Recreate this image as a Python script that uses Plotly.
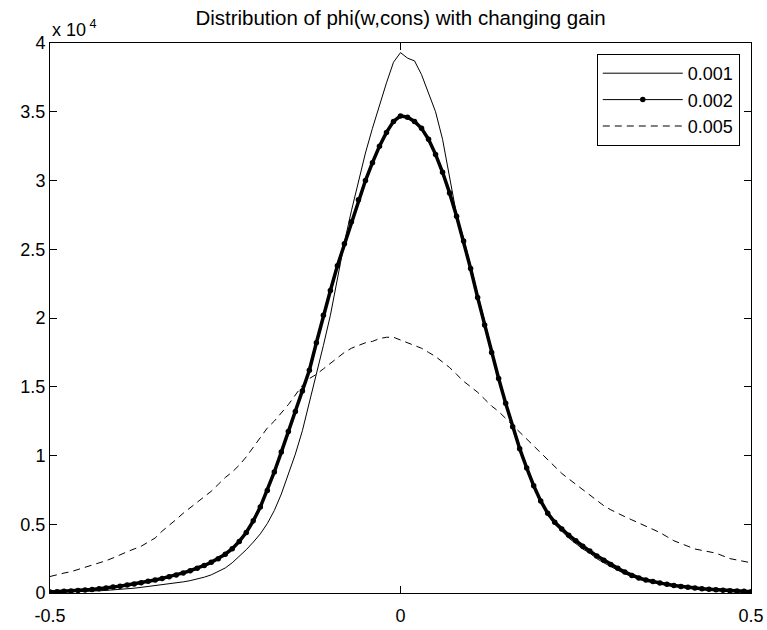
import plotly.graph_objects as go

# bin centres of the histogram (phi value)
x_vals = [-0.50, -0.49, -0.48, -0.47, -0.46, -0.45, -0.44, -0.43, -0.42, -0.41,
          -0.40, -0.39, -0.38, -0.37, -0.36, -0.35, -0.34, -0.33, -0.32, -0.31,
          -0.30, -0.29, -0.28, -0.27, -0.26, -0.25, -0.24, -0.23, -0.22, -0.21,
          -0.20, -0.19, -0.18, -0.17, -0.16, -0.15, -0.14, -0.13, -0.12, -0.11,
          -0.10, -0.09, -0.08, -0.07, -0.06, -0.05, -0.04, -0.03, -0.02, -0.01,
          0.00, 0.01, 0.02, 0.03, 0.04, 0.05, 0.06, 0.07, 0.08, 0.09,
          0.10, 0.11, 0.12, 0.13, 0.14, 0.15, 0.16, 0.17, 0.18, 0.19,
          0.20, 0.21, 0.22, 0.23, 0.24, 0.25, 0.26, 0.27, 0.28, 0.29,
          0.30, 0.31, 0.32, 0.33, 0.34, 0.35, 0.36, 0.37, 0.38, 0.39,
          0.40, 0.41, 0.42, 0.43, 0.44, 0.45, 0.46, 0.47, 0.48, 0.49, 0.50]

# counts in units of 10^4
gain_0001 = [0.005, 0.006, 0.007, 0.008, 0.010, 0.012, 0.014, 0.016, 0.019, 0.022,
             0.026, 0.030, 0.035, 0.041, 0.047, 0.053, 0.059, 0.066, 0.073, 0.081,
             0.090, 0.101, 0.115, 0.132, 0.155, 0.182, 0.220, 0.265, 0.315, 0.370,
             0.430, 0.505, 0.600, 0.720, 0.860, 1.010, 1.180, 1.380, 1.580, 1.800,
             2.020, 2.300, 2.550, 2.780, 3.000, 3.200, 3.380, 3.550, 3.710, 3.860,
             3.930, 3.890, 3.870, 3.770, 3.640, 3.500, 3.300, 3.030, 2.750, 2.580,
             2.380, 2.170, 1.960, 1.760, 1.560, 1.370, 1.200, 1.040, 0.900, 0.770,
             0.660, 0.570, 0.500, 0.450, 0.400, 0.360, 0.320, 0.290, 0.250, 0.220,
             0.190, 0.165, 0.140, 0.120, 0.100, 0.088, 0.077, 0.067, 0.058, 0.050,
             0.043, 0.037, 0.032, 0.027, 0.023, 0.020, 0.017, 0.014, 0.012, 0.010, 0.008]

gain_0002 = [0.008, 0.010, 0.012, 0.015, 0.018, 0.022, 0.026, 0.031, 0.036, 0.043,
             0.050, 0.058, 0.066, 0.075, 0.085, 0.095, 0.106, 0.118, 0.131, 0.146,
             0.162, 0.180, 0.200, 0.223, 0.250, 0.282, 0.322, 0.375, 0.440, 0.525,
             0.625, 0.745, 0.880, 1.025, 1.175, 1.320, 1.470, 1.620, 1.820, 2.020,
             2.200, 2.380, 2.540, 2.700, 2.860, 3.000, 3.130, 3.250, 3.350, 3.430,
             3.470, 3.460, 3.430, 3.380, 3.300, 3.190, 3.060, 2.910, 2.740, 2.560,
             2.360, 2.150, 1.950, 1.750, 1.560, 1.380, 1.210, 1.050, 0.910, 0.780,
             0.670, 0.580, 0.515, 0.465, 0.420, 0.380, 0.340, 0.305, 0.270, 0.238,
             0.208, 0.180, 0.152, 0.128, 0.110, 0.095, 0.083, 0.072, 0.063, 0.055,
             0.048, 0.042, 0.036, 0.031, 0.027, 0.023, 0.020, 0.017, 0.014, 0.012, 0.010]

gain_0005 = [0.120, 0.135, 0.145, 0.155, 0.170, 0.185, 0.200, 0.220, 0.235, 0.255,
             0.280, 0.300, 0.320, 0.340, 0.370, 0.400, 0.450, 0.490, 0.535, 0.580,
             0.620, 0.660, 0.700, 0.740, 0.790, 0.840, 0.880, 0.930, 0.990, 1.060,
             1.130, 1.200, 1.250, 1.310, 1.370, 1.440, 1.510, 1.560, 1.590, 1.630,
             1.670, 1.710, 1.750, 1.780, 1.800, 1.820, 1.830, 1.850, 1.860, 1.860,
             1.840, 1.820, 1.800, 1.780, 1.750, 1.720, 1.680, 1.640, 1.590, 1.540,
             1.500, 1.460, 1.410, 1.360, 1.320, 1.270, 1.220, 1.170, 1.120, 1.070,
             1.020, 0.970, 0.920, 0.870, 0.830, 0.790, 0.750, 0.710, 0.670, 0.635,
             0.605, 0.578, 0.555, 0.532, 0.510, 0.485, 0.460, 0.440, 0.410, 0.380,
             0.360, 0.340, 0.320, 0.310, 0.300, 0.290, 0.270, 0.250, 0.240, 0.230, 0.220]

series_names = ["0.001", "0.002", "0.005"]
y_ticks = [0, 0.5, 1, 1.5, 2, 2.5, 3, 3.5, 4]
y_ticktext = ["0", "0.5", "1", "1.5", "2", "2.5", "3", "3.5", "4"]
x_ticks = [-0.5, 0, 0.5]
x_ticktext = ["-0.5", "0", "0.5"]

FONT = "Liberation Sans, Arial, sans-serif"

fig = go.Figure()
fig.add_trace(go.Scatter(x=x_vals, y=gain_0001, name=series_names[0], mode="lines",
                         line=dict(color="black", width=1)))
# dense-marker band of the 0.002 series (body of the band, no legend entry)
fig.add_trace(go.Scatter(x=x_vals, y=gain_0002, name=series_names[1], mode="lines",
                         line=dict(color="black", width=3.5), showlegend=False,
                         hoverinfo="skip"))
fig.add_trace(go.Scatter(x=x_vals, y=gain_0002, name=series_names[1], mode="lines+markers",
                         line=dict(color="black", width=1),
                         marker=dict(color="black", size=5.5)))
fig.add_trace(go.Scatter(x=x_vals, y=gain_0005, name=series_names[2], mode="lines",
                         line=dict(color="black", width=1, dash="7px,5px")))

axis_common = dict(showline=True, linecolor="black", linewidth=1, mirror="ticks",
                   ticks="inside", ticklen=7, tickcolor="black", showgrid=False,
                   zeroline=False, automargin=False,
                   tickfont=dict(family=FONT, size=18, color="black"))

fig.update_xaxes(range=[-0.5, 0.5], tickvals=x_ticks, ticktext=x_ticktext,
                 ticklabelstandoff=6, **axis_common)
fig.update_yaxes(range=[0, 4], tickvals=y_ticks, ticktext=y_ticktext, **axis_common)

fig.update_layout(
    width=767, height=630,
    margin=dict(l=50, r=16, t=43, b=37, autoexpand=False),
    paper_bgcolor="white", plot_bgcolor="white",
    font=dict(family=FONT, size=18, color="black"),
    title=dict(text="Distribution of phi(w,cons) with changing gain",
               font=dict(family=FONT, size=20.5, color="black"),
               x=0.5, xref="paper", xanchor="center",
               y=1 - 18 / 630, yref="container", yanchor="middle"),
    legend=dict(x=0.984, y=0.98, xanchor="right", yanchor="top",
                bordercolor="black", borderwidth=1, bgcolor="white",
                font=dict(family=FONT, size=18, color="black"),
                itemwidth=80, tracegroupgap=0),
    showlegend=True,
    annotations=[dict(text="x 10<sup> 4</sup>", xref="paper", yref="paper",
                      x=0, y=1.027, xanchor="left", yanchor="middle",
                      showarrow=False, font=dict(family=FONT, size=18, color="black"))],
)

fig.write_html("out.html")
